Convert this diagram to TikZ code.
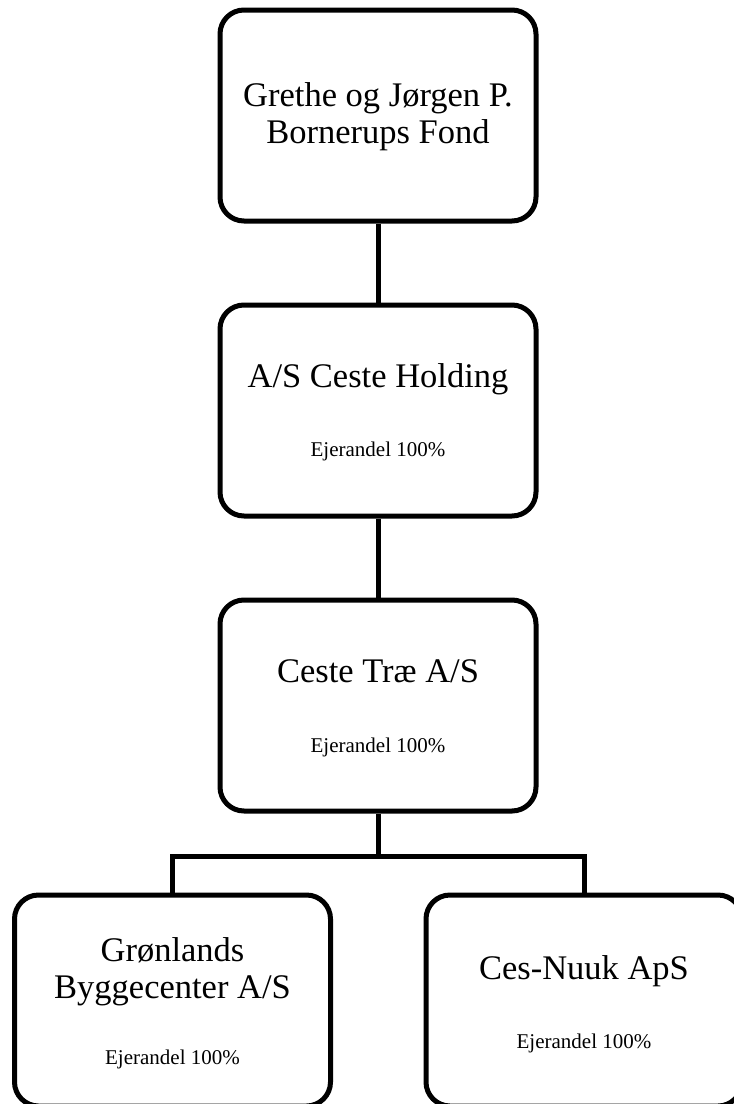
\documentclass[tikz,border=0pt]{standalone}
\usepackage{fontspec}
\setmainfont{Liberation Serif}
\usetikzlibrary{positioning}
\tikzset{
x=1pt, y=1pt,
node distance=295pt, % vertical step from one level to the next
firm/.style={draw, line width=5pt, rounded corners=24pt, minimum width=316pt, minimum height=211pt}, % one company box
firmname/.style={font=\fontsize{34.5}{37}\selectfont, align=center, anchor=base}, % name of the company
ownshare/.style={font=\fontsize{21}{24}\selectfont, anchor=base}, % the ownership line
}

\begin{document}
\begin{tikzpicture}
            \useasboundingbox (0,0) rectangle (734,-1104);
            \clip (0,0) rectangle (734,-1104);

            \node[firm] (fond) at (378,-115.5) {};
            \node[firm, below of=fond] (holding) {};
            \node[firm, below of=holding] (trae) {};
            \node[firm, below of=trae, xshift=-205.5pt] (byg) {};
            \node[firm, below of=trae, xshift=206pt] (nuuk) {};

            % for two lines the base is the last line
            \node[firmname] (fondname) at ([yshift=-136pt]fond.north) {Grethe og Jørgen P.\\Bornerups Fond};
            \node[firmname] (holdingname) at ([yshift=-85pt]holding.north) {A/S Ceste Holding};
            \node[ownshare] (holdingshare) at ([yshift=-154pt]holding.north) {Ejerandel 100\%};
            \node[firmname] (traename) at ([yshift=-85pt]trae.north) {Ceste Træ A/S};
            \node[ownshare] (traeshare) at ([yshift=-155pt]trae.north) {Ejerandel 100\%};
            \node[firmname] (bygname) at ([yshift=-106pt]byg.north) {Grønlands\\Byggecenter A/S};
            \node[ownshare] (bygshare) at ([yshift=-172pt]byg.north) {Ejerandel 100\%};
            \node[firmname] (nuukname) at ([yshift=-87pt]nuuk.north) {Ces-Nuuk ApS};
            \node[ownshare] (nuukshare) at ([yshift=-156pt]nuuk.north) {Ejerandel 100\%};

            \draw[line width=5pt]
                (fond) -- (holding)
                (holding) -- (trae)
                (trae.south) -- ++(0,-43) coordinate (fork)
                (fork) -| (byg.north)
                (fork) -| (nuuk.north);
        \end{tikzpicture}
\end{document}
